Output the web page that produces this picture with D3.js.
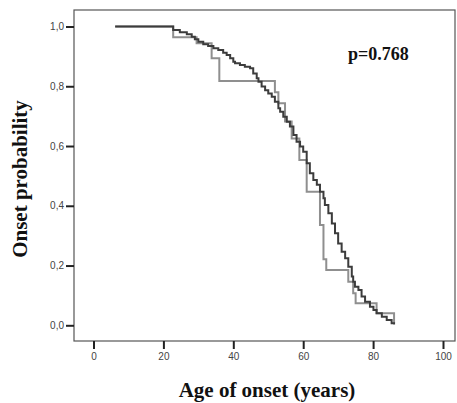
<!DOCTYPE html>
<html>
<head>
<meta charset="utf-8">
<script src="https://cdn.jsdelivr.net/npm/d3@7"></script>
<style>
  body { margin: 0; background: #fff; }
  svg { display: block; }
</style>
</head>
<body>
<div id="chart"></div>
<script>
// step points: [age, onset probability after the drop]
const darkSeries = [
  [6.2, 1.0], [22.8, 0.988], [24.7, 0.981], [26.7, 0.974], [28.1, 0.966], [29.0, 0.957],
  [30.0, 0.949], [31.4, 0.941], [32.8, 0.935], [34.3, 0.927], [35.7, 0.921], [37.1, 0.912],
  [38.1, 0.905], [39.1, 0.894], [40.0, 0.882], [40.5, 0.877], [41.9, 0.871], [43.3, 0.865],
  [44.8, 0.860], [45.7, 0.843], [46.7, 0.827], [47.2, 0.815], [48.1, 0.799], [49.1, 0.787],
  [50.0, 0.776], [51.0, 0.765], [51.9, 0.748], [52.9, 0.726], [53.4, 0.715], [54.3, 0.698],
  [55.3, 0.681], [56.2, 0.665], [57.2, 0.637], [58.1, 0.614], [59.1, 0.598], [60.0, 0.581],
  [61.0, 0.542], [61.9, 0.509], [62.9, 0.486], [63.9, 0.470], [64.8, 0.447], [65.8, 0.425],
  [66.2, 0.403], [67.2, 0.375], [68.2, 0.341], [69.1, 0.308], [70.0, 0.274], [71.0, 0.246],
  [72.0, 0.224], [72.9, 0.196], [73.9, 0.163], [74.3, 0.146], [74.8, 0.129], [75.8, 0.118],
  [76.7, 0.096], [77.7, 0.079], [79.1, 0.062], [80.1, 0.051], [81.0, 0.040], [82.5, 0.029],
  [83.9, 0.018], [85.3, 0.007], [86.0, 0.003]
];

const lightSeries = [
  [6.2, 1.0], [22.8, 0.964], [29.5, 0.944], [33.8, 0.894], [36.0, 0.818], [51.9, 0.780],
  [52.9, 0.743], [54.8, 0.682], [56.7, 0.625], [58.9, 0.553], [61.0, 0.447], [64.8, 0.336],
  [65.8, 0.221], [66.6, 0.185], [72.9, 0.146], [74.3, 0.107], [75.0, 0.074], [81.0, 0.040],
  [86.0, 0.007]
];

const xTicks = [0, 20, 40, 60, 80, 100];
const yTicks = [0, 0.2, 0.4, 0.6, 0.8, 1.0];
const yTickLabels = ['0,0', '0,2', '0,4', '0,6', '0,8', '1,0'];
const pLabel = 'p=0.768';

const width = 457, height = 403;
const svg = d3.select('#chart').append('svg')
    .attr('width', width)
    .attr('height', height);

/* plot frame */
const box = { left: 74, top: 10, right: 455, bottom: 341 };

const xScale = d3.scaleLinear().domain([0, 100]).range([93.5, 443]);
const yScale = d3.scaleLinear().domain([0, 1]).range([325.3, 26.5]);

svg.append('rect')
    .attr('x', box.left)
    .attr('y', box.top)
    .attr('width', box.right - box.left)
    .attr('height', box.bottom - box.top)
    .attr('fill', 'none')
    .attr('stroke', '#555')
    .attr('stroke-width', 1.2);

/* y axis */
const yAxis = d3.axisLeft(yScale)
    .tickValues(yTicks)
    .tickSize(8)
    .tickPadding(2)
    .tickFormat((d, i) => yTickLabels[i]);

const gy = svg.append('g')
    .attr('transform', `translate(${box.left},0)`)
    .call(yAxis);
gy.select('.domain').remove();
gy.selectAll('line').attr('stroke', '#222').attr('stroke-width', 2);
gy.selectAll('text')
    .attr('fill', '#444')
    .style('font-family', 'Liberation Sans, Arial, sans-serif')
    .style('font-size', '10px');

/* x axis */
const xAxis = d3.axisBottom(xScale)
    .tickValues(xTicks)
    .tickSize(8)
    .tickPadding(4)
    .tickFormat(d3.format('d'));

const gx = svg.append('g')
    .attr('transform', `translate(0,${box.bottom})`)
    .call(xAxis);
gx.select('.domain').remove();
gx.selectAll('line').attr('stroke', '#222').attr('stroke-width', 2);
gx.selectAll('text')
    .attr('fill', '#444')
    .style('font-family', 'Liberation Sans, Arial, sans-serif')
    .style('font-size', '10px');

/* curves */
const line = d3.line()
    .x(d => xScale(d[0]))
    .y(d => yScale(d[1]))
    .curve(d3.curveStepAfter);

svg.append('path')
    .datum(lightSeries)
    .attr('fill', 'none')
    .attr('stroke', '#8f8f8f')
    .attr('stroke-width', 2)
    .attr('d', line);

svg.append('path')
    .datum(darkSeries)
    .attr('fill', 'none')
    .attr('stroke', '#3c3c3c')
    .attr('stroke-width', 2)
    .attr('d', line);

/* p value */
svg.append('text')
    .text(pLabel)
    .attr('x', 348)
    .attr('y', 60)
    .attr('fill', '#111')
    .style('font-family', 'Liberation Serif, Times New Roman, serif')
    .style('font-weight', 'bold')
    .style('font-size', '18px');

/* axis titles */
svg.append('text')
    .text('Age of onset (years)')
    .attr('x', 267)
    .attr('y', 397)
    .attr('text-anchor', 'middle')
    .attr('fill', '#111')
    .style('font-family', 'Liberation Serif, Times New Roman, serif')
    .style('font-weight', 'bold')
    .style('font-size', '21px');

svg.append('text')
    .text('Onset probability')
    .attr('transform', 'translate(27,179) rotate(-90)')
    .attr('text-anchor', 'middle')
    .attr('fill', '#111')
    .style('font-family', 'Liberation Serif, Times New Roman, serif')
    .style('font-weight', 'bold')
    .style('font-size', '21px');
</script>
</body>
</html>
